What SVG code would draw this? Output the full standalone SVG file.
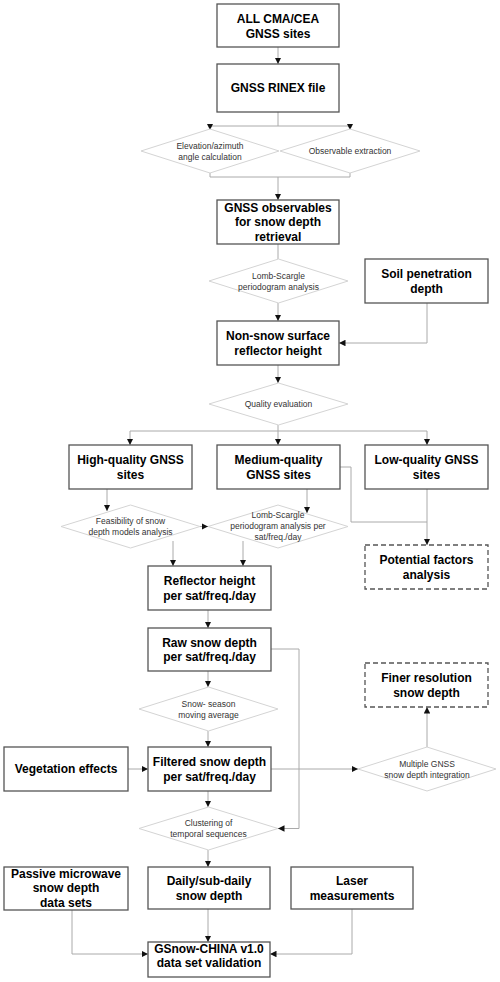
<svg xmlns="http://www.w3.org/2000/svg" width="500" height="982" viewBox="0 0 500 982">
<defs>
<marker id="ah" viewBox="0 0 10 10" refX="10" refY="5" markerWidth="6.5" markerHeight="6.5" markerUnits="userSpaceOnUse" orient="auto">
<path d="M0,0 L10,5 L0,10 z" fill="#111"/>
</marker>
<style>
.box{fill:#fff;stroke:#555;stroke-width:1.3}
.dash{fill:#fff;stroke:#555;stroke-width:1.3;stroke-dasharray:5,3}
.dia{fill:#fff;stroke:#d4d4d4;stroke-width:1}
.bt{font-family:"Liberation Sans",Arial,sans-serif;font-weight:bold;font-size:12px;fill:#000;text-anchor:middle}
.dt{font-family:"Liberation Sans",Arial,sans-serif;font-size:8.5px;fill:#333;text-anchor:middle}
.c{fill:none;stroke:#aaa;stroke-width:1}
.a{fill:none;stroke:#aaa;stroke-width:1;marker-end:url(#ah)}
</style>
</defs>
<rect width="500" height="982" fill="#fff"/>
<g id="connectors">
<path class="a" d="M278,47 V64"/>
<path class="c" d="M278,112 V126 M210,126 H350"/>
<path class="a" d="M210,126 V130"/>
<path class="a" d="M350,126 V130"/>
<path class="c" d="M210,173 V177 H350 V173"/>
<path class="a" d="M278,177 V200"/>
<path class="c" d="M278,244 V259"/>
<path class="a" d="M278,303 V321"/>
<path class="a" d="M427,303 V343 H339"/>
<path class="a" d="M278,365 V383"/>
<path class="c" d="M278,425 V431 M130,431 H427"/>
<path class="a" d="M130,431 V445"/>
<path class="a" d="M278,431 V445"/>
<path class="a" d="M427,431 V445"/>
<path class="a" d="M107,489 V511"/>
<path class="a" d="M307,489 V513"/>
<path class="a" d="M200,526.5 H208"/>
<path class="a" d="M173,541 V566"/>
<path class="a" d="M243,541 V566"/>
<path class="c" d="M340,467 H351 V522 H427"/>
<path class="a" d="M427,489 V545"/>
<path class="a" d="M208,610 V628"/>
<path class="a" d="M208,671 V687"/>
<path class="a" d="M271,649 H299 V828.5 H278"/>
<path class="a" d="M208,731 V747"/>
<path class="a" d="M128,769 H148"/>
<path class="a" d="M271,769 H358"/>
<path class="a" d="M427,747 V707"/>
<path class="a" d="M208,791 V807"/>
<path class="a" d="M208,850 V867"/>
<path class="a" d="M208,909 V942"/>
<path class="a" d="M72,909 V954 H148"/>
<path class="a" d="M352,909 V954 H270"/>
</g>
<g id="n-allsites"><rect class="box" x="217" y="4" width="122" height="43"/><text class="bt" x="278" y="22.5">ALL CMA/CEA</text><text class="bt" x="278" y="37.5">GNSS sites</text></g>
<g id="n-rinex"><rect class="box" x="217" y="64" width="122" height="48"/><text class="bt" x="278" y="92.3">GNSS RINEX file</text></g>
<g id="d-elev"><polygon class="dia" points="141,151 210,129 279,151 210,173"/><text class="dt" x="210" y="148.5">Elevation/azimuth</text><text class="dt" x="210" y="159.5">angle calculation</text></g>
<g id="d-obs"><polygon class="dia" points="280,151 350,129 420,151 350,173"/><text class="dt" x="350" y="154">Observable extraction</text></g>
<g id="n-observables"><rect class="box" x="217" y="200" width="122" height="44"/><text class="bt" x="278" y="211.5">GNSS observables</text><text class="bt" x="278" y="226.3">for snow depth</text><text class="bt" x="278" y="241">retrieval</text></g>
<g id="d-lomb1"><polygon class="dia" points="209,281 278.5,259 348,281 278.5,303"/><text class="dt" x="278.5" y="279">Lomb-Scargle</text><text class="dt" x="278.5" y="290">periodogram analysis</text></g>
<g id="n-soil"><rect class="box" x="365" y="259" width="123" height="44"/><text class="bt" x="426.5" y="278">Soil penetration</text><text class="bt" x="426.5" y="292.5">depth</text></g>
<g id="n-nonsnow"><rect class="box" x="217" y="321" width="122" height="44"/><text class="bt" x="278" y="340">Non-snow surface</text><text class="bt" x="278" y="354.5">reflector height</text></g>
<g id="d-quality"><polygon class="dia" points="209,404 278.5,383 348,404 278.5,425"/><text class="dt" x="278.5" y="407">Quality evaluation</text></g>
<g id="n-high"><rect class="box" x="69" y="445" width="123" height="44"/><text class="bt" x="130.5" y="464">High-quality GNSS</text><text class="bt" x="130.5" y="478.5">sites</text></g>
<g id="n-medium"><rect class="box" x="217" y="445" width="123" height="44"/><text class="bt" x="278.5" y="464">Medium-quality</text><text class="bt" x="278.5" y="478.5">GNSS sites</text></g>
<g id="n-low"><rect class="box" x="365" y="445" width="123" height="44"/><text class="bt" x="426.5" y="464">Low-quality GNSS</text><text class="bt" x="426.5" y="478.5">sites</text></g>
<g id="d-feas"><polygon class="dia" points="61,526.5 130.5,505 200,526.5 130.5,548"/><text class="dt" x="130.5" y="524">Feasibility of snow</text><text class="dt" x="130.5" y="535">depth models analysis</text></g>
<g id="d-lomb2"><polygon class="dia" points="208,526.5 278,505 348,526.5 278,548"/><text class="dt" x="278" y="518">Lomb-Scargle</text><text class="dt" x="278" y="529">periodogram analysis per</text><text class="dt" x="278" y="540">sat/freq./day</text></g>
<g id="n-potential"><rect class="dash" x="365" y="545" width="123" height="44"/><text class="bt" x="426.5" y="564">Potential factors</text><text class="bt" x="426.5" y="578.5">analysis</text></g>
<g id="n-reflector"><rect class="box" x="148" y="566" width="123" height="44"/><text class="bt" x="209.5" y="585">Reflector height</text><text class="bt" x="209.5" y="599.5">per sat/freq./day</text></g>
<g id="n-raw"><rect class="box" x="148" y="628" width="123" height="43"/><text class="bt" x="209.5" y="646.5">Raw snow depth</text><text class="bt" x="209.5" y="661">per sat/freq./day</text></g>
<g id="d-moving"><polygon class="dia" points="139,709 208.5,687 278,709 208.5,731"/><text class="dt" x="208.5" y="706.5">Snow- season</text><text class="dt" x="208.5" y="717.5">moving average</text></g>
<g id="n-finer"><rect class="dash" x="365" y="663" width="123" height="44"/><text class="bt" x="426.5" y="682">Finer resolution</text><text class="bt" x="426.5" y="696.5">snow depth</text></g>
<g id="n-veg"><rect class="box" x="4" y="747" width="124" height="44"/><text class="bt" x="66" y="773.3">Vegetation effects</text></g>
<g id="n-filtered"><rect class="box" x="148" y="747" width="123" height="44"/><text class="bt" x="209.5" y="766">Filtered snow depth</text><text class="bt" x="209.5" y="780.5">per sat/freq./day</text></g>
<g id="d-multi"><polygon class="dia" points="358,769 427,747 496,769 427,791"/><text class="dt" x="427" y="766.5">Multiple GNSS</text><text class="dt" x="427" y="777.5">snow depth integration</text></g>
<g id="d-cluster"><polygon class="dia" points="139,828.5 208.5,807 278,828.5 208.5,850"/><text class="dt" x="208.5" y="826">Clustering of</text><text class="dt" x="208.5" y="837">temporal sequences</text></g>
<g id="n-passive"><rect class="box" x="4" y="867" width="124" height="43"/><text class="bt" x="66" y="877.5">Passive microwave</text><text class="bt" x="66" y="892.3">snow depth</text><text class="bt" x="66" y="906.5">data sets</text></g>
<g id="n-daily"><rect class="box" x="148" y="867" width="122" height="42"/><text class="bt" x="209" y="885">Daily/sub-daily</text><text class="bt" x="209" y="899.5">snow depth</text></g>
<g id="n-laser"><rect class="box" x="291" y="867" width="122" height="42"/><text class="bt" x="352" y="885">Laser</text><text class="bt" x="352" y="899.5">measurements</text></g>
<g id="n-gsnow"><rect class="box" x="148" y="942" width="122" height="35"/><text class="bt" x="209" y="952.5">GSnow-CHINA v1.0</text><text class="bt" x="209" y="966.5">data set validation</text></g>
</svg>
